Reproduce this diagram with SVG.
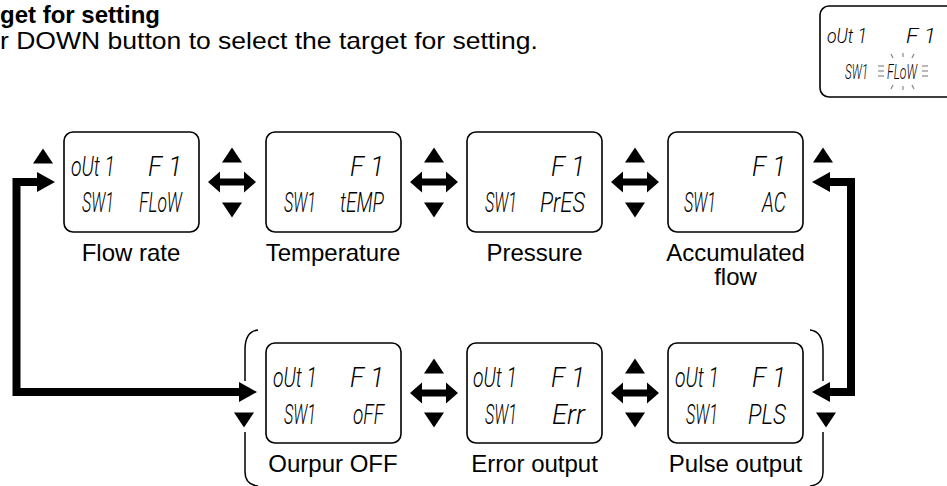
<svg xmlns="http://www.w3.org/2000/svg" width="947" height="486" viewBox="0 0 947 486">
<style>
.box{fill:#fff;stroke:#000;stroke-width:1.6}
.lcd{font-family:Roboto,"DejaVu Sans",sans-serif;font-weight:300;font-style:italic;font-size:28px;fill:#000}
.lcds{font-family:Roboto,"DejaVu Sans",sans-serif;font-weight:300;font-style:italic;font-size:20px;fill:#000}
.lbl{font-family:"Liberation Sans",Arial,sans-serif;font-size:24px;fill:#000;text-anchor:middle}
.hd{font-family:"Liberation Sans",Arial,sans-serif;font-size:24px;fill:#000}
.thick{fill:none;stroke:#000;stroke-width:8;stroke-linejoin:miter}
.br{fill:none;stroke:#000;stroke-width:1.5}
.ray{stroke:#888;stroke-width:1.2}
</style>
<defs>
<marker id="ah" viewBox="0 0 18 20" markerWidth="18" markerHeight="20" refX="0" refY="10" markerUnits="userSpaceOnUse" orient="auto-start-reverse"><path d="M0,0 L18,10 L0,20 Z" fill="#000"/></marker>
<polygon id="dbl" points="-24,0 -12,-10.5 -12,-3.5 12,-3.5 12,-10.5 24,0 12,10.5 12,3.5 -12,3.5 -12,10.5" fill="#000"/>
<path id="up" d="M-10,7.5 L0,-7.5 L10,7.5 Z" fill="#000"/>
<path id="dn" d="M-10,-7.5 L0,7.5 L10,-7.5 Z" fill="#000"/>
</defs>

<g id="header">
<text class="hd" x="0" y="23" font-weight="bold" font-size="23">get for setting</text>
<text class="hd" x="0" y="49" textLength="538" lengthAdjust="spacingAndGlyphs">r DOWN button to select the target for setting.</text>
</g>

<g id="preview">
<rect class="box" x="820" y="6" width="150" height="91" rx="9"/>
<text class="lcds" x="827" y="43" textLength="40" lengthAdjust="spacingAndGlyphs">oUt 1</text>
<text class="lcds" x="906" y="43" textLength="30" lengthAdjust="spacingAndGlyphs">F 1</text>
<text class="lcds" x="845" y="79" textLength="23" lengthAdjust="spacingAndGlyphs">SW1</text>
<text class="lcds" x="887" y="79" textLength="30" lengthAdjust="spacingAndGlyphs">FLoW</text>
<line class="ray" x1="878" y1="66" x2="884" y2="66"/><line class="ray" x1="878" y1="71" x2="884" y2="71"/><line class="ray" x1="878" y1="76" x2="884" y2="76"/>
<line class="ray" x1="922" y1="66" x2="928" y2="66"/><line class="ray" x1="922" y1="71" x2="928" y2="71"/><line class="ray" x1="922" y1="76" x2="928" y2="76"/>
<line class="ray" x1="891" y1="54" x2="893" y2="58"/><line class="ray" x1="903" y1="53" x2="903" y2="57"/><line class="ray" x1="914" y1="54" x2="912" y2="58"/>
<line class="ray" x1="891" y1="89" x2="893" y2="85"/><line class="ray" x1="903" y1="90" x2="903" y2="86"/><line class="ray" x1="914" y1="89" x2="912" y2="85"/>
</g>

<g id="n-flow">
<rect class="box" x="64" y="132" width="135" height="100" rx="9"/>
<text class="lcd" x="71" y="176" textLength="44" lengthAdjust="spacingAndGlyphs">oUt 1</text>
<text class="lcd" x="148" y="176" textLength="34" lengthAdjust="spacingAndGlyphs">F 1</text>
<text class="lcd" x="82" y="212" textLength="32" lengthAdjust="spacingAndGlyphs">SW1</text>
<text class="lcd" x="139" y="212" textLength="43" lengthAdjust="spacingAndGlyphs">FLoW</text>
<text class="lbl" x="131" y="261">Flow rate</text>
</g>
<g id="n-temp">
<rect class="box" x="266" y="132" width="135" height="100" rx="9"/>
<text class="lcd" x="350" y="176" textLength="34" lengthAdjust="spacingAndGlyphs">F 1</text>
<text class="lcd" x="284" y="212" textLength="32" lengthAdjust="spacingAndGlyphs">SW1</text>
<text class="lcd" x="340" y="212" textLength="44" lengthAdjust="spacingAndGlyphs">tEMP</text>
<text class="lbl" x="333" y="261">Temperature</text>
</g>
<g id="n-pres">
<rect class="box" x="467" y="132" width="135" height="100" rx="9"/>
<text class="lcd" x="551" y="176" textLength="34" lengthAdjust="spacingAndGlyphs">F 1</text>
<text class="lcd" x="485" y="212" textLength="32" lengthAdjust="spacingAndGlyphs">SW1</text>
<text class="lcd" x="540" y="212" textLength="45" lengthAdjust="spacingAndGlyphs">PrES</text>
<text class="lbl" x="534.5" y="261">Pressure</text>
</g>
<g id="n-acc">
<rect class="box" x="668" y="132" width="135" height="100" rx="9"/>
<text class="lcd" x="752" y="176" textLength="34" lengthAdjust="spacingAndGlyphs">F 1</text>
<text class="lcd" x="684" y="212" textLength="32" lengthAdjust="spacingAndGlyphs">SW1</text>
<text class="lcd" x="762" y="212" textLength="24" lengthAdjust="spacingAndGlyphs">AC</text>
<text class="lbl" x="735.5" y="261">Accumulated</text>
<text class="lbl" x="735.5" y="285">flow</text>
</g>
<g id="n-off">
<rect class="box" x="266" y="343" width="135" height="100" rx="9"/>
<text class="lcd" x="273" y="387" textLength="44" lengthAdjust="spacingAndGlyphs">oUt 1</text>
<text class="lcd" x="350" y="387" textLength="34" lengthAdjust="spacingAndGlyphs">F 1</text>
<text class="lcd" x="284" y="424" textLength="32" lengthAdjust="spacingAndGlyphs">SW1</text>
<text class="lcd" x="353" y="424" textLength="31" lengthAdjust="spacingAndGlyphs">oFF</text>
<text class="lbl" x="333" y="472">Ourpur OFF</text>
</g>
<g id="n-err">
<rect class="box" x="467" y="343" width="135" height="100" rx="9"/>
<text class="lcd" x="473" y="387" textLength="44" lengthAdjust="spacingAndGlyphs">oUt 1</text>
<text class="lcd" x="551" y="387" textLength="34" lengthAdjust="spacingAndGlyphs">F 1</text>
<text class="lcd" x="485" y="424" textLength="32" lengthAdjust="spacingAndGlyphs">SW1</text>
<text class="lcd" x="552" y="424" textLength="33" lengthAdjust="spacingAndGlyphs">Err</text>
<text class="lbl" x="534.5" y="472">Error output</text>
</g>
<g id="n-pls">
<rect class="box" x="668" y="343" width="135" height="100" rx="9"/>
<text class="lcd" x="675" y="387" textLength="44" lengthAdjust="spacingAndGlyphs">oUt 1</text>
<text class="lcd" x="752" y="387" textLength="34" lengthAdjust="spacingAndGlyphs">F 1</text>
<text class="lcd" x="686" y="424" textLength="32" lengthAdjust="spacingAndGlyphs">SW1</text>
<text class="lcd" x="748" y="424" textLength="38" lengthAdjust="spacingAndGlyphs">PLS</text>
<text class="lbl" x="735.5" y="472">Pulse output</text>
</g>

<g id="connectors">
<path class="thick" d="M37,182 H16.5 V392 H239" marker-start="url(#ah)" marker-end="url(#ah)"/>
<path class="thick" d="M830,182 H851 V392 H830" marker-start="url(#ah)" marker-end="url(#ah)"/>
<path class="br" d="M258,330 C249,331 245,338 245,350 V381"/>
<path class="br" d="M245,432 V472 C245,480 249,485 258,486"/>
<path class="br" d="M810,330 C819,331 823,338 823,350 V381"/>
<path class="br" d="M823,432 V472 C823,480 819,485 810,486"/>
<use href="#up" x="43" y="156"/>
<use href="#up" x="232" y="155"/><use href="#dbl" x="232" y="182"/><use href="#dn" x="232" y="210"/>
<use href="#up" x="434" y="155"/><use href="#dbl" x="434" y="182"/><use href="#dn" x="434" y="210"/>
<use href="#up" x="635" y="155"/><use href="#dbl" x="635" y="182"/><use href="#dn" x="635" y="210"/>
<use href="#up" x="823" y="155"/>
<use href="#dn" x="244" y="420"/>
<use href="#up" x="434" y="366"/><use href="#dbl" x="434" y="393"/><use href="#dn" x="434" y="420"/>
<use href="#up" x="635" y="366"/><use href="#dbl" x="635" y="393"/><use href="#dn" x="635" y="420"/>
<use href="#dn" x="826" y="420"/>
</g>
</svg>
